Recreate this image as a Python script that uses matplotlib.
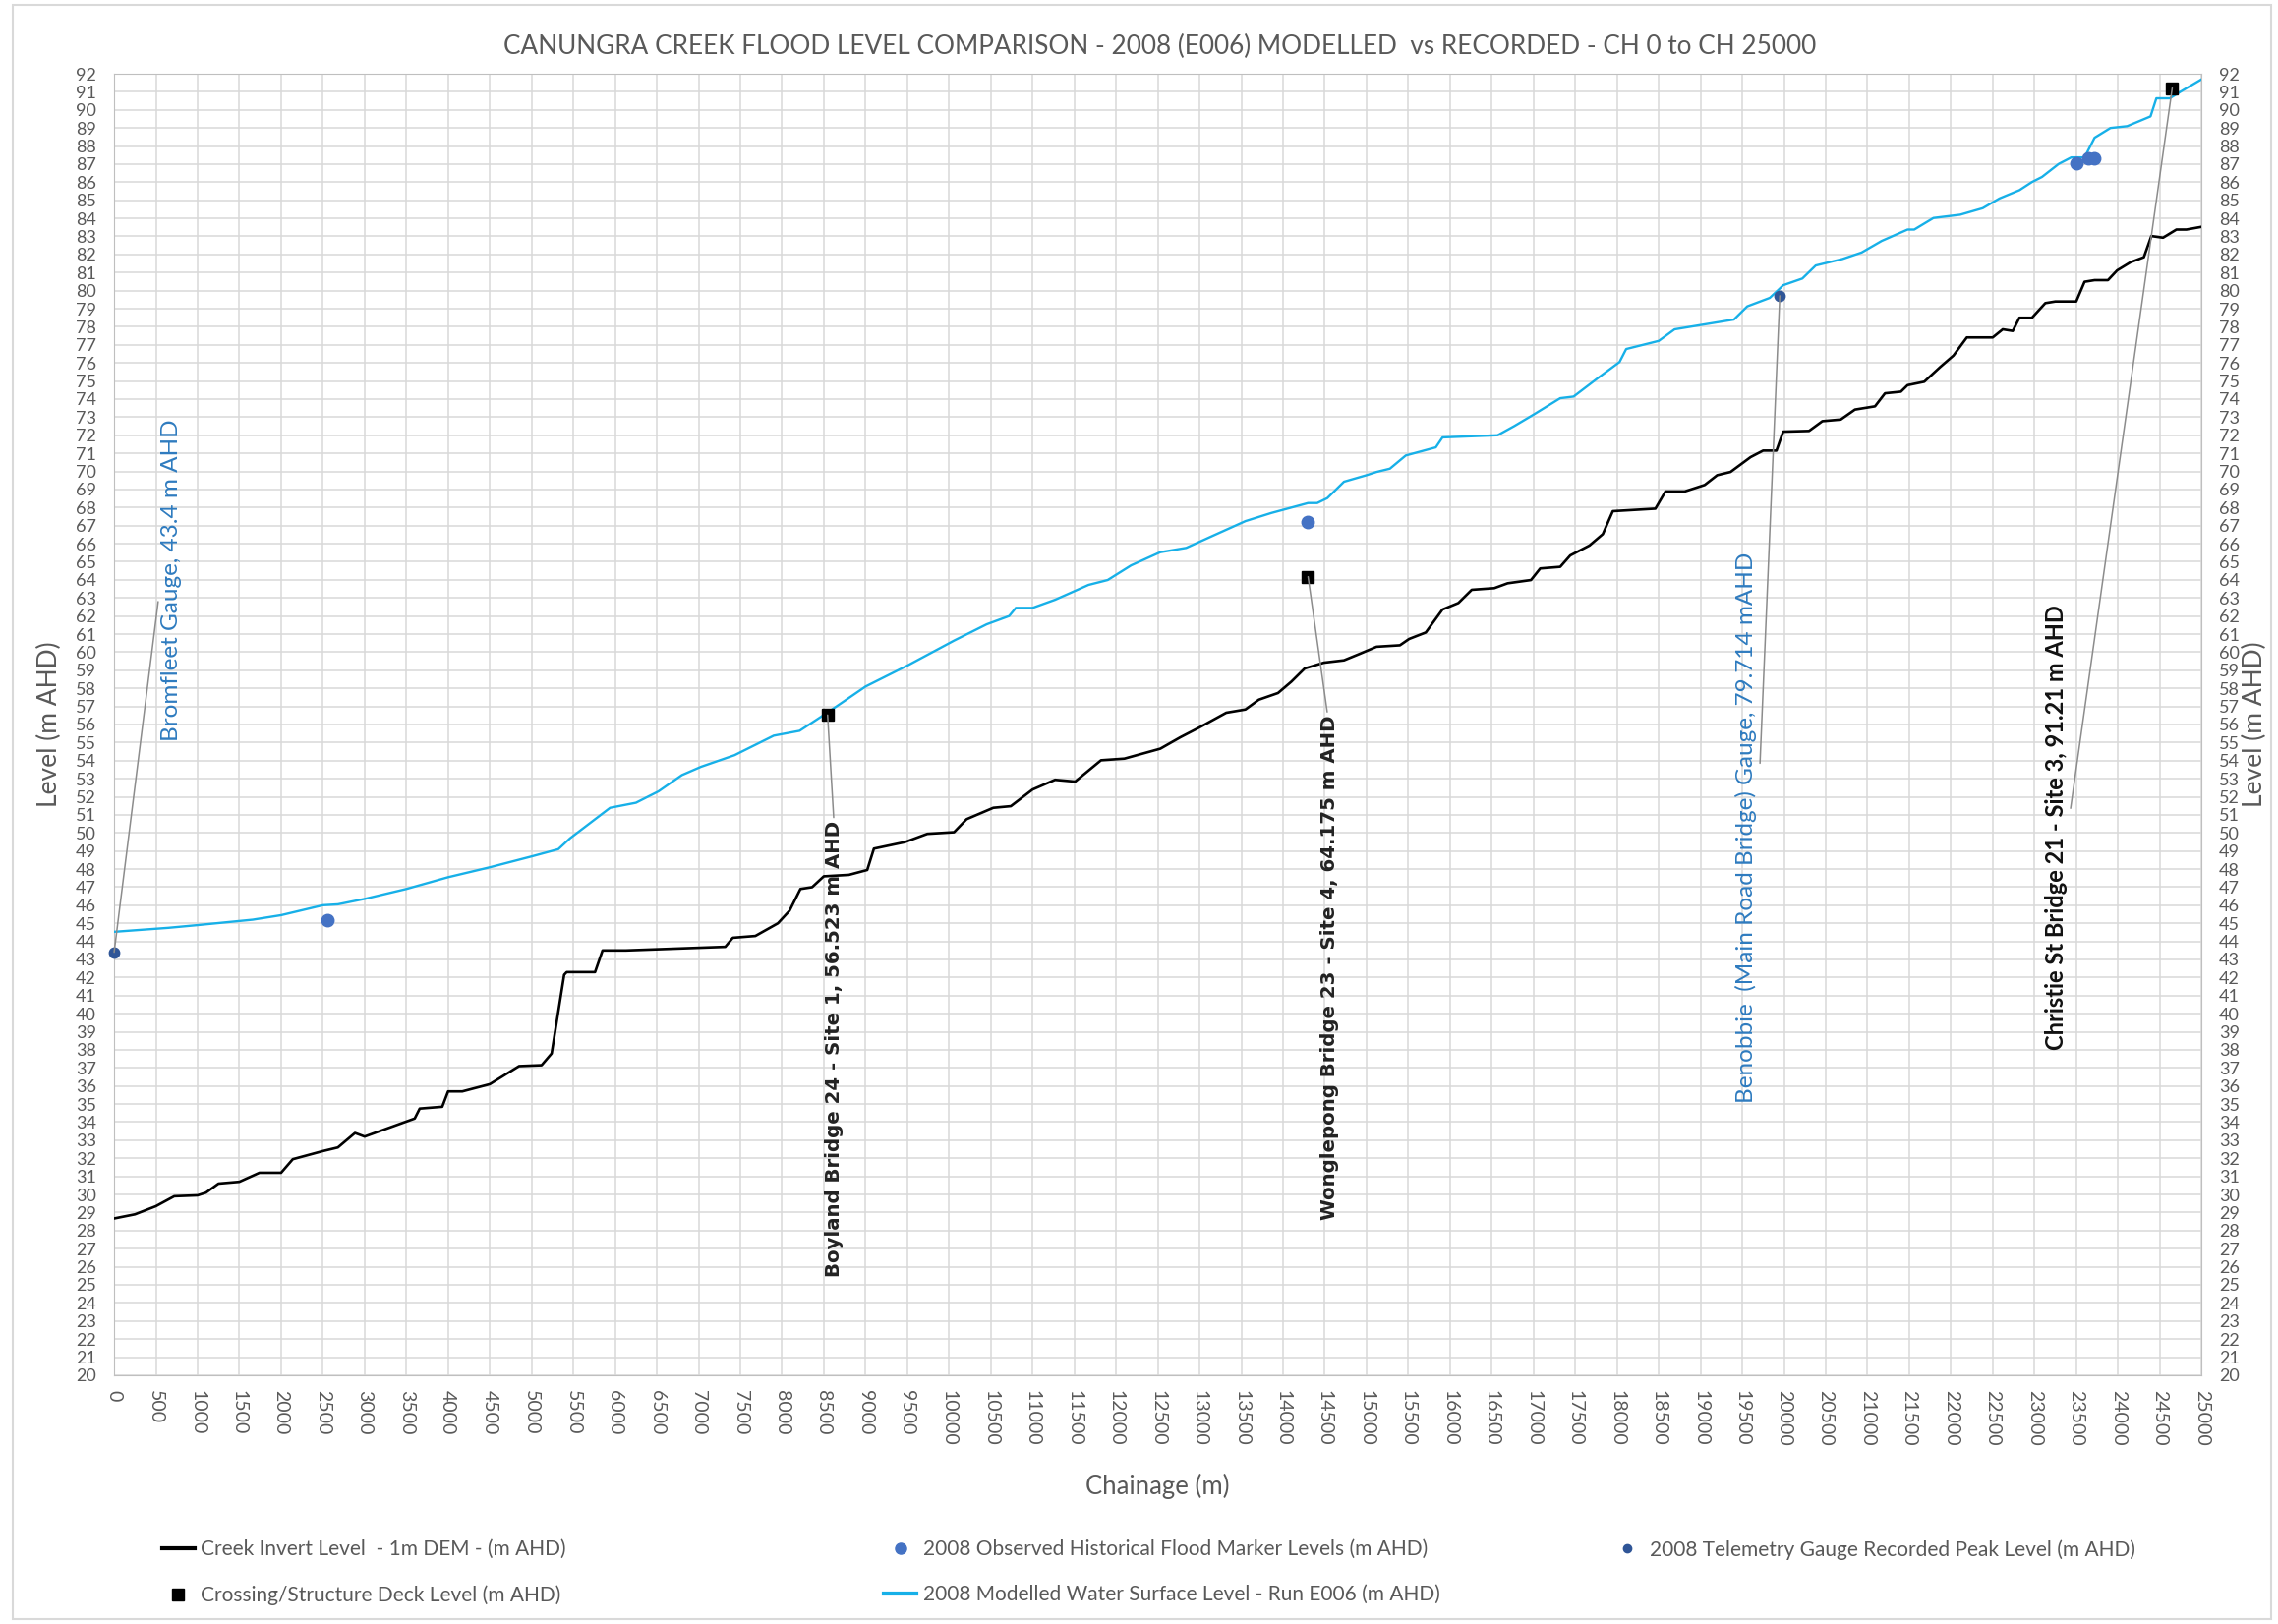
import numpy as np
import matplotlib.pyplot as plt
from matplotlib.lines import Line2D
from matplotlib.patches import Rectangle

# chainage (m) / level (m AHD)
invert_ch = [0, 250, 500, 720, 1000, 1100, 1250, 1500, 1740, 2000, 2140, 2500, 2680, 2885,
             3000, 3360, 3600, 3660, 3930, 4000, 4170, 4500, 4640, 4850, 5120, 5240, 5390,
             5420, 5760, 5850, 6130, 7320, 7410, 7680, 7950, 8090, 8220, 8360, 8500, 8800,
             9020, 9100, 9470, 9740, 10060, 10210, 10530, 10740, 11000, 11270, 11510, 11820,
             12100, 12530, 12770, 13000, 13320, 13550, 13710, 13940, 14100, 14260, 14490,
             14730, 14920, 15120, 15400, 15510, 15710, 15910, 16100, 16260, 16530, 16690,
             16970, 17080, 17320, 17440, 17670, 17830, 17950, 18460, 18580, 18810, 19050,
             19200, 19360, 19600, 19750, 19910, 19990, 20300, 20460, 20680, 20850, 21090,
             21210, 21400, 21480, 21680, 21870, 22030, 22190, 22500, 22620, 22740, 22820,
             22970, 23130, 23250, 23500, 23600, 23720, 23880, 23990, 24150, 24310, 24400,
             24540, 24700, 24820, 25000]
invert_lvl = [28.67, 28.9, 29.35, 29.9, 29.95, 30.1, 30.6, 30.7, 31.2, 31.2, 31.95, 32.4, 32.6,
              33.4, 33.2, 33.8, 34.2, 34.75, 34.85, 35.7, 35.7, 36.1, 36.5, 37.1, 37.15, 37.8,
              42.15, 42.3, 42.3, 43.5, 43.5, 43.7, 44.2, 44.3, 45.0, 45.7, 46.9, 47.0, 47.6,
              47.68, 47.95, 49.13, 49.49, 49.95, 50.04, 50.76, 51.39, 51.48, 52.4, 52.94, 52.84,
              54.02, 54.11, 54.66, 55.29, 55.84, 56.65, 56.83, 57.37, 57.74, 58.37, 59.1, 59.42,
              59.55, 59.91, 60.3, 60.38, 60.73, 61.09, 62.36, 62.72, 63.45, 63.54, 63.81, 63.99,
              64.63, 64.72, 65.35, 65.9, 66.53, 67.8, 67.94, 68.89, 68.89, 69.25, 69.79, 69.97,
              70.79, 71.15, 71.15, 72.2, 72.24, 72.78, 72.87, 73.42, 73.6, 74.32, 74.41, 74.77,
              74.96, 75.77, 76.41, 77.41, 77.41, 77.86, 77.77, 78.5, 78.5, 79.31, 79.4, 79.4,
              80.49, 80.58, 80.58, 81.12, 81.57, 81.85, 83.02, 82.93, 83.38, 83.38, 83.53]

wsl_ch = [0, 650, 1000, 1660, 2000, 2500, 2680, 3000, 3500, 4000, 4500, 5000, 5320, 5460,
          5940, 6250, 6520, 6800, 7030, 7430, 7900, 8210, 8570, 9000, 9510, 10060, 10450,
          10720, 10800, 11000, 11270, 11670, 11900, 12180, 12530, 12840, 13160, 13550, 13860,
          14300, 14410, 14530, 14730, 15000, 15120, 15280, 15470, 15830, 15910, 16570, 16770,
          17000, 17320, 17480, 17790, 18030, 18110, 18500, 18690, 19400, 19560, 19830, 19930,
          19990, 20220, 20380, 20700, 20930, 21170, 21480, 21560, 21790, 22110, 22380, 22580,
          22820, 22970, 23090, 23290, 23440, 23600, 23720, 23910, 24110, 24390, 24460, 24620,
          24780, 25000]
wsl_lvl = [44.53, 44.75, 44.9, 45.2, 45.45, 46.0, 46.05, 46.35, 46.9, 47.55, 48.1, 48.7, 49.1,
           49.7, 51.39, 51.67, 52.3, 53.2, 53.66, 54.3, 55.38, 55.65, 56.74, 58.1, 59.28, 60.64,
           61.54, 62.0, 62.45, 62.45, 62.9, 63.72, 63.99, 64.8, 65.53, 65.77, 66.44, 67.25, 67.7,
           68.25, 68.25, 68.52, 69.43, 69.79, 69.97, 70.15, 70.88, 71.33, 71.88, 72.0, 72.51,
           73.14, 74.05, 74.14, 75.23, 76.05, 76.77, 77.22, 77.86, 78.4, 79.13, 79.6, 80.03,
           80.3, 80.67, 81.39, 81.75, 82.11, 82.75, 83.38, 83.38, 84.02, 84.2, 84.56, 85.1,
           85.56, 86.01, 86.29, 87.01, 87.37, 87.37, 88.46, 89.0, 89.1, 89.64, 90.64, 90.64,
           91.09, 91.69]

marker_ch = [2550, 14300, 23500, 23640, 23720]
marker_lvl = [45.2, 67.22, 87.05, 87.3, 87.3]

gauge_ch = [0, 19950]
gauge_lvl = [43.4, 79.714]

deck_ch = [8545, 14300, 24650]
deck_lvl = [56.523, 64.175, 91.21]

# annotation labels: text, point, text anchor
labels = ["Bromfleet Gauge, 43.4 m AHD",
          "Boyland Bridge 24 - Site 1, 56.523 m AHD",
          "Wonglepong Bridge 23 - Site 4, 64.175 m AHD",
          "Benobbie  (Main Road Bridge) Gauge, 79.714 mAHD",
          "Christie St Bridge 21 - Site 3, 91.21 m AHD"]
label_pts = [(0, 43.4), (8545, 56.523), (14300, 64.175), (19950, 79.714), (24650, 91.21)]
label_pos = [(560, 64.0), (8620, 50.7), (14556, 56.54), (19680, 50.29), (23400, 50.29)]

xticks = np.arange(0, 25001, 500)
yticks = np.arange(20, 93, 1)

grey = '#595959'
cyan = '#17b0e8'
mblue = '#4472c4'
dblue = '#2f5597'
lblue = '#2e7bbf'

fig = plt.figure(figsize=(23.17, 16.52), dpi=100)
fig.patches.append(Rectangle((0.0056, 0.003), 0.9914, 0.994, transform=fig.transFigure,
                             fill=False, edgecolor='#d9d9d9', linewidth=1.5))
ax = fig.add_axes([0.0501, 0.1532, 0.9163, 0.8014])

ax.plot(invert_ch, invert_lvl, color='black', lw=1.9, zorder=3)
ax.plot(wsl_ch, wsl_lvl, color=cyan, lw=1.7, zorder=3)
ax.plot(marker_ch, marker_lvl, 'o', color=mblue, ms=9, zorder=4)
ax.plot(gauge_ch, gauge_lvl, 'o', color=dblue, ms=7.5, zorder=4, clip_on=False)
ax.plot(deck_ch, deck_lvl, 's', color='black', ms=9, zorder=4)

ax.set_xlim(0, 25000)
ax.set_ylim(20, 92)
ax.set_xticks(xticks)
ax.set_yticks(yticks)
ax.grid(True, color='#d9d9d9', lw=1.1)
ax.set_axisbelow(True)
for s in ax.spines.values():
    s.set_color('#bfbfbf')
ax.tick_params(axis='both', length=0, colors=grey)
ax.tick_params(axis='y', pad=13, labelsize=13, labelright=True)
ax.tick_params(axis='x', pad=11, labelsize=14)
for t in ax.get_xticklabels():
    t.set_rotation(-90)
    t.set_fontfamily('Lato')
for t in ax.get_yticklabels():
    t.set_fontfamily('Lato')

ax.set_xlabel('Chainage (m)', fontsize=18.5, color=grey, family='Lato', labelpad=20)
ax.set_ylabel('Level (m AHD)', fontsize=19, color=grey, family='Lato', labelpad=10)
sec = ax.secondary_yaxis('right')
sec.set_yticks([])
sec.spines['right'].set_visible(False)
sec.set_ylabel('Level (m AHD)', fontsize=19, color=grey, family='Lato', labelpad=30)

fig.text(0.509, 0.971, 'CANUNGRA CREEK FLOOD LEVEL COMPARISON - 2008 (E006) MODELLED  vs RECORDED - CH 0 to CH 25000',
         ha='center', va='center', fontsize=18.8, color=grey, family='Lato')

styles = [dict(color=lblue, family='Lato', fontsize=17.5, ha='left', va='center', rel=(0, 0.5)),
          dict(color='#222222', family='DejaVu Sans', fontweight='bold', fontsize=14.2, ha='center', va='top', rel=(0.5, 1)),
          dict(color='#222222', family='DejaVu Sans', fontweight='bold', fontsize=14.2, ha='center', va='top', rel=(0.4, 1)),
          dict(color=lblue, family='Lato', fontsize=17.5, ha='right', va='center', rel=(1, 0.5)),
          dict(color='#111111', family='Lato', fontweight='bold', fontsize=17, ha='right', va='center', rel=(1, 0.5))]
for txt, pt, pos, st in zip(labels, label_pts, label_pos, styles):
    st = dict(st)
    rel = st.pop('rel')
    ax.annotate(txt, xy=pt, xytext=pos, textcoords='data', rotation=90, zorder=5,
                arrowprops=dict(arrowstyle='-', color='#8c8c8c', lw=1.1, relpos=rel,
                                shrinkA=0, shrinkB=0), **st)

h_inv = Line2D([], [], color='black', lw=3)
h_deck = Line2D([], [], color='black', marker='s', ls='none', ms=9)
h_mark = Line2D([], [], color=mblue, marker='o', ls='none', ms=8)
h_wsl = Line2D([], [], color=cyan, lw=3)
h_gauge = Line2D([], [], color=dblue, marker='o', ls='none', ms=6)

legend_cols = [([h_inv, h_deck], ['Creek Invert Level  - 1m DEM - (m AHD)', 'Crossing/Structure Deck Level (m AHD)'], 0.071),
               ([h_mark, h_wsl], ['2008 Observed Historical Flood Marker Levels (m AHD)', '2008 Modelled Water Surface Level - Run E006 (m AHD)'], 0.388),
               ([h_gauge], ['2008 Telemetry Gauge Recorded Peak Level (m AHD)'], 0.707)]
for hs, ls, x in legend_cols:
    fig.legend(hs, ls, loc='upper left', bbox_to_anchor=(x, 0.052), frameon=False,
               borderpad=0, borderaxespad=0, handlelength=1.6, handletextpad=0.3,
               labelspacing=1.26, prop={'family': 'Lato', 'size': 15}, labelcolor=grey)

fig.savefig('out.png', dpi=100)
